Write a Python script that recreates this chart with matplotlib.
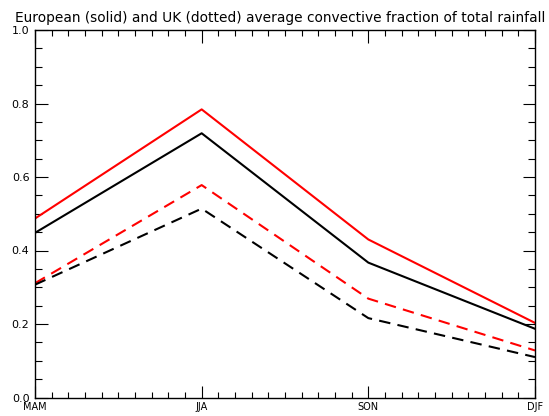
import matplotlib
matplotlib.use("Agg")
import matplotlib.pyplot as plt
from matplotlib.ticker import MultipleLocator

# seasons along the x axis
seasons = ["MAM", "JJA", "SON", "DJF"]

# convective fraction of total rainfall
europe_red = [0.487, 0.784, 0.430, 0.203]
europe_black = [0.448, 0.719, 0.367, 0.187]
uk_red = [0.311, 0.578, 0.269, 0.128]
uk_black = [0.307, 0.514, 0.216, 0.110]

yticks = [0.0, 0.2, 0.4, 0.6, 0.8, 1.0]

fig = plt.figure(figsize=(5.49, 4.16), dpi=100)
ax = fig.add_axes([35 / 549, 18.5 / 416, 500 / 549, 367.5 / 416])

x = range(len(seasons))
ax.plot(x, europe_red, color="red", lw=1.5)
ax.plot(x, europe_black, color="black", lw=1.5)
ax.plot(x, uk_red, color="red", lw=1.5, ls=(0, (5.5, 3.5)))
ax.plot(x, uk_black, color="black", lw=1.5, ls=(0, (5.5, 3.5)))

ax.set_xlim(0, len(seasons) - 1)
ax.set_ylim(0, 1.0)

ax.set_xticks(list(x))
ax.set_xticklabels(seasons, fontsize=7)
ax.xaxis.set_minor_locator(MultipleLocator(0.1))
ax.set_yticks(yticks)
ax.set_yticklabels(["%.1f" % v for v in yticks], fontsize=8)
ax.yaxis.set_minor_locator(MultipleLocator(0.05))

ax.tick_params(which="both", direction="in", top=True, right=True, width=0.8)
ax.tick_params(which="major", length=9)
ax.tick_params(axis="y", which="minor", length=5)
ax.tick_params(axis="x", which="minor", length=4)
ax.tick_params(axis="x", which="major", pad=3)
ax.tick_params(axis="y", which="major", pad=4)
for s in ax.spines.values():
    s.set_linewidth(1.0)

ax.set_title("European (solid) and UK (dotted) average convective fraction of total rainfall",
             fontsize=9.9, pad=6, loc="center", x=0.49)

fig.savefig("out.png", dpi=100)
